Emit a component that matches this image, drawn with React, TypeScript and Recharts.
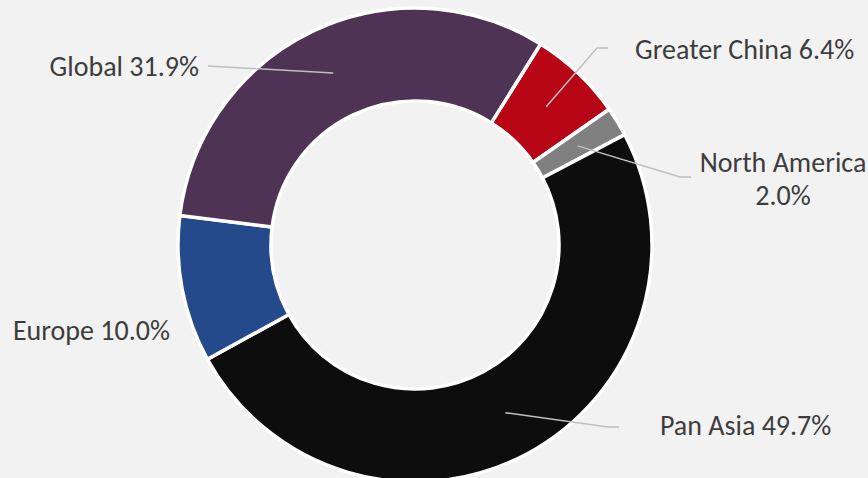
import React from 'react';
import { PieChart, Pie, Cell } from 'recharts';

const categories = ['Greater China', 'North America', 'Pan Asia', 'Europe', 'Global'];
const shares = [6.4, 2.0, 49.7, 10.0, 31.9];
const colors = ['#b70515', '#808080', '#0d0d0d', '#244a8c', '#4e3355'];

const data = categories.map((name, i) => ({ name, value: shares[i] }));

// label layout: offsets relative to the pie centre
type LabelLayout = {
  elbow: [number, number] | null;
  endX: number | null;
  textX: number;
  anchor: 'start' | 'middle' | 'end';
  lines: number[];
  split: boolean;
};
const labelLayout: LabelLayout[] = [
  { elbow: [182, -197], endX: 193, textX: 220, anchor: 'start', lines: [-186], split: false },
  { elbow: [265, -68], endX: 276, textX: 368, anchor: 'middle', lines: [-73, -40], split: true },
  { elbow: [193, 182], endX: 204, textX: 245, anchor: 'start', lines: [190], split: false },
  { elbow: null, endX: null, textX: -245, anchor: 'end', lines: [95], split: false },
  { elbow: [-207, -179], endX: null, textX: -216, anchor: 'end', lines: [-169], split: false },
];

const RAD = Math.PI / 180;
const FONT = 'Carlito, Lato, "Liberation Sans", sans-serif';

const renderLabel = (props: any) => {
  const { cx, cy, midAngle, innerRadius, outerRadius, index, name, value } = props;
  const lay = labelLayout[index];
  const r = (innerRadius + outerRadius) / 2;
  const sx = cx + r * Math.cos(-midAngle * RAD);
  const sy = cy + r * Math.sin(-midAngle * RAD);
  const pct = `${Number(value).toFixed(1)}%`;
  const texts = lay.split ? [name, pct] : [`${name} ${pct}`];
  let path = '';
  if (lay.elbow) {
    const ex = cx + lay.elbow[0];
    const ey = cy + lay.elbow[1];
    path = `M${sx},${sy}L${ex},${ey}`;
    if (lay.endX !== null) path += `L${cx + lay.endX},${ey}`;
  }
  return (
    <g key={`lbl-${index}`}>
      {path && <path d={path} stroke="#bfbfbf" strokeWidth={1.5} fill="none" />}
      {texts.map((t, k) => (
        <text
          key={k}
          x={cx + lay.textX}
          y={cy + lay.lines[k]}
          textAnchor={lay.anchor}
          fill="#3d3d3d"
          fontSize={28}
          fontFamily={FONT}
        >
          {t}
        </text>
      ))}
    </g>
  );
};

export default function App() {
  return (
    <div style={{ position: 'fixed', left: 0, top: 0, width: 868, height: 478, background: '#f2f2f2', overflow: 'hidden' }}>
      <PieChart width={868} height={478} margin={{ top: 0, right: 0, bottom: 0, left: 0 }}>
        <Pie
          data={data}
          dataKey="value"
          nameKey="name"
          cx={415}
          cy={245}
          innerRadius={144}
          outerRadius={237}
          startAngle={58}
          endAngle={-302}
          stroke="#ffffff"
          strokeWidth={3.5}
          label={renderLabel}
          labelLine={false}
          isAnimationActive={false}
        >
          {data.map((d, i) => (
            <Cell key={d.name} fill={colors[i]} />
          ))}
        </Pie>
      </PieChart>
    </div>
  );
}
